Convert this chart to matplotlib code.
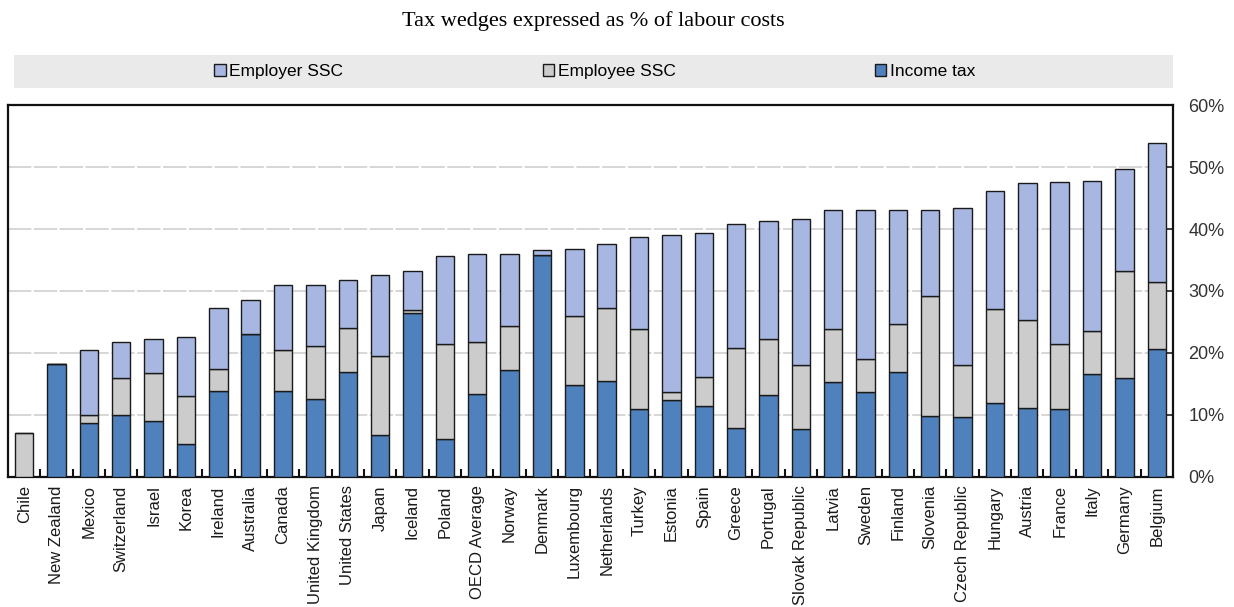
import numpy as np
import matplotlib
matplotlib.use("Agg")
import matplotlib.pyplot as plt
from matplotlib.patches import Rectangle
from matplotlib.ticker import FuncFormatter, MultipleLocator

countries = ["Chile", "New Zealand", "Mexico", "Switzerland", "Israel", "Korea",
             "Ireland", "Australia", "Canada", "United Kingdom", "United States",
             "Japan", "Iceland", "Poland", "OECD Average", "Norway", "Denmark",
             "Luxembourg", "Netherlands", "Turkey", "Estonia", "Spain", "Greece",
             "Portugal", "Slovak Republic", "Latvia", "Sweden", "Finland",
             "Slovenia", "Czech Republic", "Hungary", "Austria", "France",
             "Italy", "Germany", "Belgium"]

# shares of labour costs, in %
income_tax = [0.0, 18.2, 8.7, 9.95, 9.1, 5.4,
              13.9, 23.0, 13.9, 12.6, 17.0,
              6.8, 26.5, 6.2, 13.4, 17.2, 35.8,
              14.9, 15.5, 11.0, 12.4, 11.4, 7.9,
              13.3, 7.7, 15.3, 13.7, 17.0,
              9.9, 9.7, 12.0, 11.2, 11.0,
              16.6, 15.9, 20.7]
employee_ssc = [7.1, 0.0, 1.3, 6.0, 7.7, 7.7,
                3.5, 0.0, 6.6, 8.5, 7.0,
                12.7, 0.4, 15.3, 8.3, 7.2, 0.0,
                11.0, 11.8, 12.9, 1.3, 4.8, 12.9,
                8.9, 10.3, 8.6, 5.3, 7.6,
                19.3, 8.3, 15.1, 14.1, 10.5,
                7.0, 17.4, 10.8]
employer_ssc = [0.0, 0.0, 10.5, 5.8, 5.4, 9.5,
                9.8, 5.6, 10.4, 9.8, 7.7,
                13.0, 6.4, 14.1, 14.3, 11.6, 0.8,
                10.9, 10.2, 14.8, 25.4, 23.1, 20.0,
                19.1, 23.6, 19.1, 24.0, 18.4,
                13.8, 25.4, 19.0, 22.1, 26.1,
                24.2, 16.3, 22.3]

c_income = "#4F81BD"
c_employee = "#CCCCCC"
c_employer = "#A7B7E1"
edge = "#1a1a1a"

plt.rcParams["font.family"] = ["Liberation Sans", "DejaVu Sans"]

fig = plt.figure(figsize=(12.34, 6.07), dpi=100)
ax = fig.add_axes([0.0065, 0.2142, 0.944, 0.6128])

x = np.arange(len(countries))
inc = np.array(income_tax)
emp = np.array(employee_ssc)
er = np.array(employer_ssc)
w = 0.57
kw = dict(width=w, edgecolor=edge, linewidth=1.0, zorder=3)
b1 = ax.bar(x, inc, color=c_income, label="Income tax", **kw)
b2 = ax.bar(x, emp, bottom=inc, color=c_employee, label="Employee SSC", **kw)
b3 = ax.bar(x, er, bottom=inc + emp, color=c_employer, label="Employer SSC", **kw)

ax.set_xlim(-0.5, len(countries) - 0.5)
ax.set_ylim(0, 60)
ax.yaxis.set_major_locator(MultipleLocator(10))
ax.yaxis.set_major_formatter(FuncFormatter(lambda v, p: f"{v:.0f}%"))
ax.yaxis.tick_right()
ax.tick_params(axis="y", direction="in", length=6, width=1.2, labelsize=13,
               pad=11, colors="#222222", labelcolor="#333333")
ax.grid(axis="y", color="#d0d0d0", linewidth=1.2, linestyle=(0, (14, 1.5)), zorder=0)

ax.set_xticks(x)
ax.set_xticklabels(countries, rotation=90, fontsize=12, color="#1a1a1a")
ax.set_xticks(x[:-1] + 0.5, minor=True)
ax.tick_params(axis="x", which="major", length=0, pad=6)
ax.tick_params(axis="x", which="minor", direction="in", length=6, width=1.5, colors="#111111")

for s in ax.spines.values():
    s.set_linewidth(1.6)
    s.set_color("#111111")

fig.text(0.481, 0.966, "Tax wedges expressed as % of labour costs", ha="center",
         va="center", fontsize=16, family=["Liberation Serif", "DejaVu Serif"])

# grey band behind the legend
fig.patches.append(Rectangle((0.0113, 0.855), 0.939, 0.0544, transform=fig.transFigure,
                             facecolor="#EAEAEA", edgecolor="none", zorder=0))
fig.legend(handles=[b3, b2, b1], loc="center", bbox_to_anchor=(0.482, 0.8822), ncol=3,
           frameon=False, fontsize=12.5, handlelength=0.65, handleheight=0.65,
           handletextpad=0.2, columnspacing=11.5)

fig.savefig("out.png", dpi=100)
